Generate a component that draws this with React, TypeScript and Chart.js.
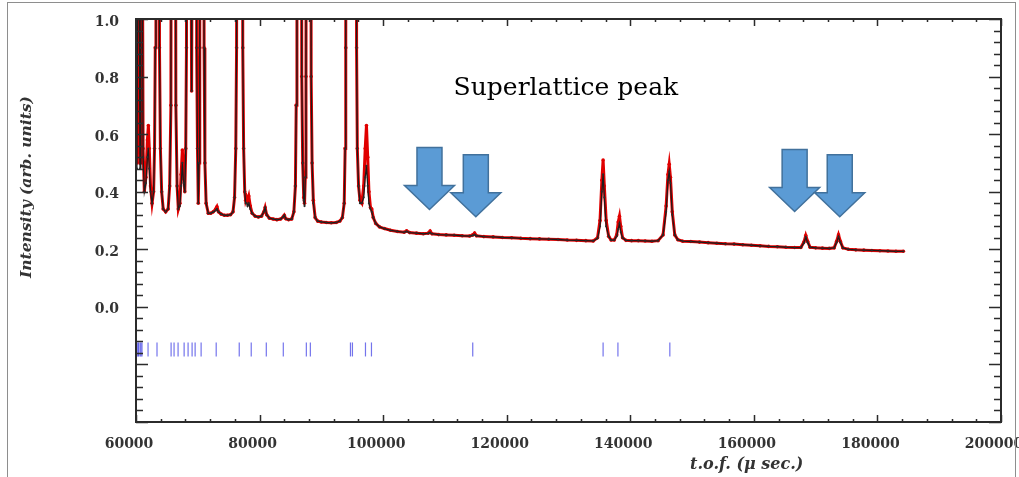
import React, { useEffect, useRef } from 'react';
import { Chart, registerables } from 'chart.js';

Chart.register(...registerables);

// ---- data (time of flight in micro-seconds, intensity in arb. units) ----
const tof = [
  60150, 60280, 60400, 60520, 60650, 60780, 60900, 61020, 61150, 61350,
  61600, 61850, 62000, 62150, 62350, 62600, 62850, 63000, 63120, 63230,
  63700, 63800, 63950, 64150, 64400, 64800, 65200, 65450, 65650, 65780,
  66300, 66450, 66650, 66850, 67100, 67300, 67500, 67700, 67900, 68050,
  68170, 68270, 68800, 68900, 69000, 69100, 69200, 69700, 69820, 69950,
  70080, 70200, 70320, 70420, 70900, 71020, 71150, 71350, 71700, 72100,
  72500, 72900, 73100, 73350, 73800, 74300, 74800, 75300, 75700, 75950,
  76150, 76280, 76400, 77150, 77280, 77420, 77600, 77750, 77900, 78050,
  78250, 78500, 78800, 79300, 79800, 80300, 80700, 80900, 81150, 81600,
  82200, 82800, 83400, 83800, 84000, 84250, 84700, 85200, 85550, 85800,
  85930, 86050, 86700, 86830, 86980, 87150, 87280, 87400, 87510, 87620,
  88230, 88350, 88500, 88700, 89000, 89400, 90000, 90800, 91600, 92400,
  93000, 93400, 93700, 93850, 93950, 94020, 95000, 95620, 95700, 95820,
  96020, 96250, 96550, 96850, 97100, 97300, 97500, 97700, 97950, 98150,
  98400, 98800, 99400, 100200, 101200, 102300, 103400, 103800, 104300, 105400,
  106500, 107300, 107600, 107900, 109000, 110200, 111500, 112800, 114000, 114500,
  114800, 115100, 116300, 117800, 119300, 120800, 122300, 123800, 125300, 126800,
  128300, 129800, 131300, 132800, 134000, 134700, 135100, 135400, 135600, 135800,
  136100, 136500, 136900, 137400, 137800, 138050, 138250, 138450, 138750, 139300,
  140200, 141300, 142400, 143500, 144500, 145300, 145800, 146100, 146300, 146500,
  146800, 147200, 147700, 148500, 149800, 151200, 152600, 154000, 155400, 156800,
  158200, 159600, 161000, 162400, 163800, 165200, 166600, 167600, 168100, 168400,
  168700, 169100, 170000, 171100, 172200, 173000, 173400, 173700, 174000, 174400,
  175300, 176500, 177800, 179100, 180400, 181700, 183000, 184200,
];

const obsIntensity = [
  0.50, 1.30, 3.00, 1.20, 0.50, 1.00, 3.00, 1.40, 0.55, 0.40,
  0.45, 0.58, 0.63, 0.55, 0.42, 0.36, 0.40, 0.55, 0.90, 3.00,
  3.00, 0.90, 0.55, 0.40, 0.34, 0.33, 0.34, 0.42, 0.70, 3.00,
  3.00, 0.70, 0.42, 0.34, 0.36, 0.46, 0.545, 0.46, 0.40, 0.55,
  0.90, 3.00, 3.00, 1.40, 0.75, 1.40, 3.00, 3.00, 0.90, 0.55,
  0.36, 0.50, 0.90, 3.00, 3.00, 0.90, 0.50, 0.36, 0.325, 0.325,
  0.33, 0.34, 0.348, 0.33, 0.322, 0.318, 0.318, 0.32, 0.33, 0.38,
  0.55, 0.90, 3.00, 3.00, 0.90, 0.55, 0.40, 0.37, 0.38, 0.37,
  0.385, 0.35, 0.325, 0.315, 0.312, 0.315, 0.33, 0.345, 0.32, 0.308,
  0.305, 0.303, 0.305, 0.312, 0.318, 0.306, 0.303, 0.305, 0.33, 0.42,
  0.70, 3.00, 3.00, 0.80, 0.50, 0.38, 0.36, 0.45, 0.80, 3.00,
  3.00, 0.80, 0.50, 0.37, 0.31, 0.298, 0.295, 0.293, 0.292, 0.293,
  0.298, 0.31, 0.36, 0.55, 0.90, 3.00, 3.20, 3.00, 0.90, 0.55,
  0.42, 0.37, 0.36, 0.42, 0.55, 0.63, 0.52, 0.40, 0.345, 0.34,
  0.31, 0.29, 0.278, 0.272, 0.266, 0.262, 0.259, 0.264, 0.258, 0.256,
  0.254, 0.256, 0.263, 0.254, 0.251, 0.25, 0.249, 0.247, 0.246, 0.25,
  0.256, 0.247, 0.244, 0.243, 0.241, 0.24, 0.238, 0.237, 0.236, 0.235,
  0.234, 0.232, 0.231, 0.23, 0.229, 0.24, 0.30, 0.44, 0.51, 0.42,
  0.30, 0.245, 0.232, 0.232, 0.25, 0.295, 0.315, 0.28, 0.24, 0.231,
  0.23, 0.23, 0.229, 0.228, 0.23, 0.25, 0.35, 0.46, 0.495, 0.45,
  0.33, 0.25, 0.233, 0.228, 0.227, 0.225, 0.223, 0.221, 0.219, 0.218,
  0.216, 0.214, 0.212, 0.21, 0.209, 0.207, 0.206, 0.206, 0.225, 0.248,
  0.228, 0.207, 0.205, 0.204, 0.203, 0.205, 0.228, 0.25, 0.228, 0.205,
  0.20, 0.198, 0.197, 0.196, 0.195, 0.194, 0.193, 0.193,
];

const calcIntensity = [
  0.48, 1.20, 3.00, 1.10, 0.48, 0.90, 3.00, 1.30, 0.52, 0.40,
  0.43, 0.52, 0.55, 0.48, 0.40, 0.36, 0.40, 0.55, 0.90, 3.00,
  3.00, 0.90, 0.55, 0.40, 0.34, 0.33, 0.34, 0.42, 0.70, 3.00,
  3.00, 0.70, 0.42, 0.34, 0.35, 0.42, 0.50, 0.43, 0.40, 0.55,
  0.90, 3.00, 3.00, 1.40, 0.75, 1.40, 3.00, 3.00, 0.90, 0.55,
  0.36, 0.50, 0.90, 3.00, 3.00, 0.90, 0.50, 0.36, 0.325, 0.325,
  0.33, 0.335, 0.34, 0.33, 0.322, 0.318, 0.318, 0.32, 0.33, 0.38,
  0.55, 0.90, 3.00, 3.00, 0.90, 0.55, 0.40, 0.36, 0.36, 0.35,
  0.36, 0.34, 0.325, 0.315, 0.312, 0.315, 0.33, 0.345, 0.32, 0.308,
  0.305, 0.303, 0.305, 0.312, 0.318, 0.306, 0.303, 0.305, 0.33, 0.42,
  0.70, 3.00, 3.00, 0.80, 0.50, 0.37, 0.35, 0.45, 0.80, 3.00,
  3.00, 0.80, 0.50, 0.36, 0.31, 0.298, 0.295, 0.293, 0.292, 0.293,
  0.298, 0.31, 0.36, 0.55, 0.90, 3.00, 3.20, 3.00, 0.90, 0.55,
  0.42, 0.36, 0.36, 0.38, 0.45, 0.49, 0.42, 0.36, 0.34, 0.33,
  0.31, 0.29, 0.278, 0.272, 0.266, 0.262, 0.259, 0.262, 0.258, 0.256,
  0.254, 0.255, 0.258, 0.254, 0.251, 0.25, 0.249, 0.247, 0.246, 0.248,
  0.251, 0.247, 0.244, 0.243, 0.241, 0.24, 0.238, 0.237, 0.236, 0.235,
  0.234, 0.232, 0.231, 0.23, 0.229, 0.238, 0.28, 0.40, 0.46, 0.38,
  0.28, 0.245, 0.232, 0.232, 0.245, 0.27, 0.29, 0.26, 0.24, 0.231,
  0.23, 0.23, 0.229, 0.228, 0.23, 0.25, 0.33, 0.44, 0.47, 0.43,
  0.32, 0.25, 0.233, 0.228, 0.227, 0.225, 0.223, 0.221, 0.219, 0.218,
  0.216, 0.214, 0.212, 0.21, 0.209, 0.207, 0.206, 0.206, 0.222, 0.242,
  0.224, 0.207, 0.205, 0.204, 0.203, 0.205, 0.224, 0.244, 0.224, 0.205,
  0.20, 0.198, 0.197, 0.196, 0.195, 0.194, 0.193, 0.193,
];

// Bragg reflection positions (blue tick marks)
const braggPositions = [
  60100, 60300, 60400, 60650, 60800, 60970, 61950, 63400, 65680, 66160,
  66810, 67790, 68430, 69080, 69570, 70540, 72980, 76710, 78650, 81090,
  83840, 87570, 88220, 94710, 95030, 97140, 98110, 114500, 135600, 138000,
  146400,
];
const braggLevel = -0.148;

// superlattice peak arrows: tip position (tof) and tip intensity
const arrowTof = [107500, 115000, 166600, 173900];
const arrowTipIntensity = [0.338, 0.313, 0.331, 0.313];

// axes
const xMin = 60000;
const xMax = 200000;
const xMajor = 20000;
const xMinor = 4000;
const yMin = -0.4;
const yMax = 1.0;
const yMajor = 0.2;
const yMinorCount = 35; // minor step 0.04

const chartTitle = 'Superlattice peak';
const xTitle = 't.o.f. (\u03bc sec.)';
const yTitle = 'Intensity (arb. units)';

const decorPlugin = {
  id: 'decor',
  afterDatasetsDraw(chart: any) {
    const { ctx, chartArea: a, scales } = chart;
    const xs = scales.x;
    const ys = scales.y;
    ctx.save();
    // outer picture frame
    ctx.strokeStyle = '#8e8e8e';
    ctx.lineWidth = 1;
    ctx.strokeRect(7.5, 2.5, 1008, 500);

    // plot box
    ctx.strokeStyle = '#2b2b2b';
    ctx.lineWidth = 2;
    ctx.strokeRect(a.left, a.top, a.right - a.left, a.bottom - a.top);

    // inward ticks
    ctx.lineWidth = 1.5;
    ctx.beginPath();
    for (let v = xMin; v <= xMax; v += xMinor) {
      const px = Math.round(xs.getPixelForValue(v)) + 0.5;
      const len = (v - xMin) % xMajor === 0 ? 7 : 3;
      ctx.moveTo(px, a.bottom);
      ctx.lineTo(px, a.bottom - len);
      ctx.moveTo(px, a.top);
      ctx.lineTo(px, a.top + len);
    }
    for (let k = 0; k <= yMinorCount; k++) {
      const v = yMin + k * 0.04;
      const py = Math.round(ys.getPixelForValue(v)) + 0.5;
      const len = k % 5 === 0 ? 12 : 7;
      ctx.moveTo(a.left, py);
      ctx.lineTo(a.left + len, py);
      ctx.moveTo(a.right, py);
      ctx.lineTo(a.right - len, py);
    }
    ctx.stroke();

    // arrows
    ctx.fillStyle = '#5b9bd5';
    ctx.strokeStyle = '#41719c';
    ctx.lineWidth = 1.5;
    arrowTof.forEach((t, i) => {
      const tx = xs.getPixelForValue(t);
      const ty = ys.getPixelForValue(arrowTipIntensity[i]);
      const h = 62, hh = 24, sw = 12.5, hw = 25;
      ctx.beginPath();
      ctx.moveTo(tx, ty);
      ctx.lineTo(tx - hw, ty - hh);
      ctx.lineTo(tx - sw, ty - hh);
      ctx.lineTo(tx - sw, ty - h);
      ctx.lineTo(tx + sw, ty - h);
      ctx.lineTo(tx + sw, ty - hh);
      ctx.lineTo(tx + hw, ty - hh);
      ctx.closePath();
      ctx.fill();
      ctx.stroke();
    });

    // texts
    ctx.fillStyle = '#000';
    ctx.font = '25px "DejaVu Serif"';
    ctx.textAlign = 'center';
    ctx.textBaseline = 'middle';
    ctx.fillText(chartTitle, a.left + (a.right - a.left) * 0.497, a.top + 69);

    ctx.fillStyle = '#333';
    ctx.font = 'italic bold 16px "DejaVu Serif"';
    ctx.fillText(xTitle, a.left + (a.right - a.left) * 0.706, a.bottom + 43);

    ctx.font = 'italic bold 15.5px "DejaVu Serif"';
    ctx.save();
    ctx.translate(27, a.top + (a.bottom - a.top) * 0.417);
    ctx.rotate(-Math.PI / 2);
    ctx.fillText(yTitle, 0, 0);
    ctx.restore();

    ctx.restore();
  },
};

export default function App() {
  const ref = useRef<HTMLCanvasElement | null>(null);

  useEffect(() => {
    if (!ref.current) return;
    const obsData = tof.map((t, i) => ({ x: t, y: obsIntensity[i] }));
    const calcData = tof.map((t, i) => ({ x: t, y: calcIntensity[i] }));
    const braggData = braggPositions.map((t) => ({ x: t, y: braggLevel }));
    const tickFont = { family: '"DejaVu Serif"', size: 14, weight: 'bold' as const };

    const chart = new Chart(ref.current, {
      type: 'line',
      data: {
        datasets: [
          {
            label: 'calc',
            data: calcData,
            borderColor: '#1c1c1c',
            borderWidth: 1.3,
            pointRadius: 1.1,
            pointBackgroundColor: '#2a2a2a',
            pointBorderWidth: 0,
            tension: 0,
            order: 0,
          },
          {
            label: 'obs',
            data: obsData,
            borderColor: '#e00000',
            borderWidth: 3,
            pointRadius: 1.8,
            pointBackgroundColor: '#e00000',
            pointBorderWidth: 0,
            tension: 0,
            order: 1,
          },
          {
            label: 'bragg',
            data: braggData,
            showLine: false,
            pointStyle: 'line',
            rotation: 90,
            pointRadius: 7,
            borderColor: 'rgba(70,70,230,0.75)',
            pointBorderColor: 'rgba(70,70,230,0.75)',
            pointBorderWidth: 1.2,
            order: 2,
          },
        ],
      },
      options: {
        animation: false,
        responsive: false,
        events: [],
        layout: { padding: { left: 0, right: 18, top: 19, bottom: 0 } },
        plugins: { legend: { display: false }, tooltip: { enabled: false } },
        scales: {
          x: {
            type: 'linear',
            min: xMin,
            max: xMax,
            grid: { display: false, drawTicks: false },
            border: { display: false },
            ticks: {
              stepSize: xMajor,
              padding: 14,
              labelOffset: -7,
              color: '#333',
              font: tickFont,
              maxRotation: 0,
              autoSkip: false,
              callback: (v: any) => String(v),
            },
            afterFit: (s: any) => {
              s.height = 55;
              s.paddingLeft = 0;
              s.paddingRight = 0;
            },
          },
          y: {
            type: 'linear',
            min: yMin,
            max: yMax,
            grid: { display: false, drawTicks: false },
            border: { display: false },
            ticks: {
              stepSize: yMajor,
              padding: 17,
              labelOffset: 3,
              color: '#333',
              font: tickFont,
              callback: (v: any) => {
                const n = Number(v);
                if (n < -1e-6) return '';
                return Math.abs(n) < 1e-6 ? '0.0' : n.toFixed(1);
              },
            },
            afterFit: (s: any) => {
              s.width = 136;
              s.paddingTop = 0;
              s.paddingBottom = 0;
            },
          },
        },
      },
      plugins: [decorPlugin],
    });
    return () => chart.destroy();
  }, []);

  return (
    <div style={{ position: 'fixed', left: 0, top: 0, width: 1019, height: 477, background: '#fff' }}>
      <canvas ref={ref} width={1019} height={477} style={{ display: 'block' }} />
    </div>
  );
}
